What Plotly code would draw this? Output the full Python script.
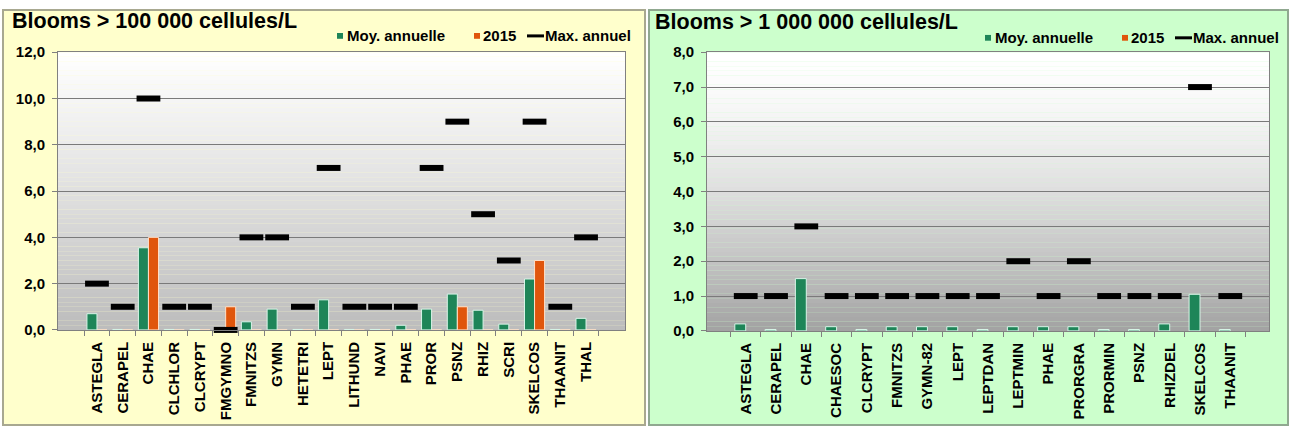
import plotly.graph_objects as go

# ---- data: blooms > 100 000 cells/L ----
cats_a = ["ASTEGLA", "CERAPEL", "CHAE", "CLCHLOR", "CLCRYPT", "FMGYMNO", "FMNITZS",
          "GYMN", "HETETRI", "LEPT", "LITHUND", "NAVI", "PHAE", "PROR", "PSNZ",
          "RHIZ", "SCRI", "SKELCOS", "THAANIT", "THAL"]
moy_a = [0.7, 0.02, 3.55, 0.02, 0.02, 0.05, 0.35, 0.9, 0.02, 1.3, 0.02, 0.02,
         0.2, 0.9, 1.55, 0.85, 0.25, 2.2, 0.02, 0.5]
y2015_a = [0, 0, 4.0, 0, 0, 1.0, 0, 0, 0, 0, 0, 0, 0, 0, 1.0, 0, 0, 3.0, 0, 0]
max_a = [2, 1, 10, 1, 1, 0, 4, 4, 1, 7, 1, 1, 1, 7, 9, 5, 3, 9, 1, 4]

# ---- data: blooms > 1 000 000 cells/L ----
cats_b = ["ASTEGLA", "CERAPEL", "CHAE", "CHAESOC", "CLCRYPT", "FMNITZS", "GYMN-82",
          "LEPT", "LEPTDAN", "LEPTMIN", "PHAE", "PRORGRA", "PRORMIN", "PSNZ",
          "RHIZDEL", "SKELCOS", "THAANIT"]
moy_b = [0.2, 0.04, 1.5, 0.12, 0.04, 0.12, 0.12, 0.12, 0.04, 0.12, 0.12, 0.12,
         0.04, 0.04, 0.2, 1.05, 0.04]
y2015_b = [0, 0, 0, 0, 0, 0, 0, 0, 0, 0, 0, 0, 0, 0, 0, 0, 0]
max_b = [1, 1, 3, 1, 1, 1, 1, 1, 1, 2, 1, 2, 1, 1, 1, 7, 1]

W, H = 1291, 434
FONT = "Liberation Sans, Arial, sans-serif"
GREEN = "#1E8558"
ORANGE = "#E0560C"


def px(x):
    return x / W


def py(y):
    return 1 - y / H


fig = go.Figure()

# left panel
fig.add_trace(go.Bar(x=cats_a, y=moy_a, name="Moy. annuelle", marker_color=GREEN,
                     marker_line=dict(color="#D8F5E8", width=1), width=0.39, offset=-0.39,
                     xaxis="x", yaxis="y", showlegend=False))
fig.add_trace(go.Bar(x=cats_a, y=y2015_a, name="2015", marker_color=ORANGE,
                     marker_line=dict(color="#FFE0C8", width=1), width=0.39, offset=0.0,
                     xaxis="x", yaxis="y", showlegend=False))
fig.add_trace(go.Scatter(x=cats_a, y=max_a, name="Max. annuel", mode="markers",
                         marker=dict(symbol="line-ew", size=17, color="black",
                                     line=dict(color="black", width=6)),
                         cliponaxis=False, xaxis="x", yaxis="y", showlegend=False))

# right panel
fig.add_trace(go.Bar(x=cats_b, y=moy_b, name="Moy. annuelle", marker_color=GREEN,
                     marker_line=dict(color="#D8F5E8", width=1), width=0.36, offset=-0.36,
                     xaxis="x2", yaxis="y2", showlegend=False))
fig.add_trace(go.Bar(x=cats_b, y=y2015_b, name="2015", marker_color=ORANGE,
                     marker_line=dict(color="#FFE0C8", width=0), width=0.36, offset=0.0,
                     xaxis="x2", yaxis="y2", showlegend=False))
fig.add_trace(go.Scatter(x=cats_b, y=max_b, name="Max. annuel", mode="markers",
                         marker=dict(symbol="line-ew", size=17, color="black",
                                     line=dict(color="black", width=6)),
                         cliponaxis=False, xaxis="x2", yaxis="y2", showlegend=False))

shapes = []
# panel backgrounds
shapes.append(dict(type="rect", xref="paper", yref="paper", x0=px(3), x1=px(645),
                   y0=py(433), y1=py(1), fillcolor="#FFFFCC",
                   line=dict(color="#A8A890", width=2), layer="below"))
shapes.append(dict(type="rect", xref="paper", yref="paper", x0=px(649), x1=px(1288),
                   y0=py(433), y1=py(1), fillcolor="#CCFFCC",
                   line=dict(color="#90A890", width=2), layer="below"))


# vertical white-to-grey gradient inside each plot area
def gradient(xr, yr, bottom, power, n=60):
    out = []
    for i in range(n):
        t = (i + 0.5) / n  # 0 top, 1 bottom
        v = int(round(255 - (255 - bottom) * t ** power))
        out.append(dict(type="rect", xref=xr + " domain", yref=yr + " domain",
                        x0=0, x1=1, y0=1 - (i + 1) / n, y1=1 - i / n,
                        fillcolor=f"rgb({v},{v},{v})", line=dict(width=0),
                        layer="below"))
    return out


shapes += gradient("x", "y", 188, 1.1)
shapes += gradient("x2", "y2", 162, 1.5)


# hand-placed legend keys
def legend_keys(dx, dy):
    s = []
    s.append(dict(type="rect", xref="paper", yref="paper",
                  x0=px(337 + dx), x1=px(343 + dx), y0=py(31 + dy), y1=py(25 + dy),
                  fillcolor=GREEN, line=dict(width=0)))
    s.append(dict(type="rect", xref="paper", yref="paper",
                  x0=px(474 + dx), x1=px(480 + dx), y0=py(31 + dy), y1=py(25 + dy),
                  fillcolor=ORANGE, line=dict(width=0)))
    s.append(dict(type="line", xref="paper", yref="paper",
                  x0=px(527 + dx), x1=px(544 + dx), y0=py(28 + dy), y1=py(28 + dy),
                  line=dict(color="black", width=3)))
    return s


shapes += legend_keys(0, 0)
shapes += legend_keys(648, 2)

annotations = []


def txt(text, x, y, size):
    return dict(text=f"<b>{text}</b>", xref="paper", yref="paper", x=px(x), y=py(y),
                xanchor="left", yanchor="middle", showarrow=False,
                font=dict(family=FONT, size=size, color="black"))


annotations.append(txt("Blooms &gt; 100 000 cellules/L", 10, 13, 21.5))
annotations.append(txt("Blooms &gt; 1 000 000 cellules/L", 653, 14, 21.5))
for dx, dy in [(0, 0), (648, 2)]:
    annotations.append(txt("Moy. annuelle", 345 + dx, 28 + dy, 15))
    annotations.append(txt("2015", 481 + dx, 28 + dy, 15))
    annotations.append(txt("Max. annuel", 543 + dx, 28 + dy, 15))

tickfont = dict(family=FONT, size=15, color="black", weight="bold")
xcommon = dict(type="category", tickson="boundaries", ticks="outside", ticklen=5,
               tickcolor="#808080", tickangle=-90, showgrid=False, showline=True,
               linecolor="#808080", linewidth=1, mirror=True, tickfont=tickfont,
               ticklabelstandoff=5)
ycommon = dict(ticks="outside", ticklen=5, tickcolor="#808080", tickformat=".1f",
               showgrid=True, gridcolor="#7A7A7A", gridwidth=1, showline=True,
               linecolor="#808080", linewidth=1, mirror=True, zeroline=False,
               ticklabelstandoff=4,
               tickfont=dict(family=FONT, size=15, color="black", weight="bold"))

fig.update_layout(
    width=W, height=H,
    margin=dict(l=0, r=0, t=0, b=0),
    paper_bgcolor="white",
    plot_bgcolor="rgba(0,0,0,0)",
    separators=", ",
    showlegend=False,
    barmode="group",
    xaxis=dict(domain=[px(58), px(625)], anchor="y", **xcommon),
    yaxis=dict(domain=[py(334), py(45)], anchor="x", range=[0, 12], dtick=2, **ycommon),
    xaxis2=dict(domain=[px(707), px(1269)], anchor="y2", **xcommon),
    yaxis2=dict(domain=[py(335), py(45)], anchor="x2", range=[0, 8], dtick=1, **ycommon),
    shapes=shapes,
    annotations=annotations,
)

fig.write_html("out.html")
